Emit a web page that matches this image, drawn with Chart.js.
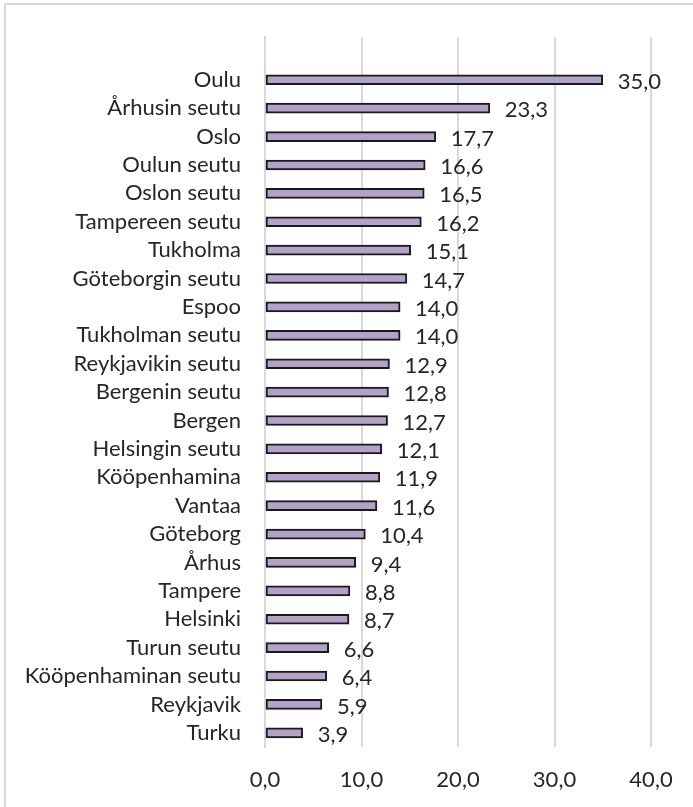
<!DOCTYPE html>
<html>
<head>
<meta charset="utf-8">
<script src="https://cdn.jsdelivr.net/npm/chart.js@4/dist/chart.umd.min.js"></script>
<style>
  html, body { margin: 0; padding: 0; background: #fff; }
  #wrap { position: relative; width: 693px; height: 807px; overflow: hidden; }
  #frame { position: absolute; left: 4px; top: 3px; width: 700px; height: 820px; border: 2px solid #d9d9d9; box-sizing: border-box; }
  canvas { position: absolute; left: 0; top: 0; }
</style>
</head>
<body>
<div id="wrap">
  <div id="frame"></div>
  <canvas id="chart" width="693" height="807"></canvas>
</div>
<script>
const cities = [
  'Oulu', 'Århusin seutu', 'Oslo', 'Oulun seutu', 'Oslon seutu', 'Tampereen seutu',
  'Tukholma', 'Göteborgin seutu', 'Espoo', 'Tukholman seutu', 'Reykjavikin seutu',
  'Bergenin seutu', 'Bergen', 'Helsingin seutu', 'Kööpenhamina', 'Vantaa',
  'Göteborg', 'Århus', 'Tampere', 'Helsinki', 'Turun seutu', 'Kööpenhaminan seutu',
  'Reykjavik', 'Turku'
];
const values = [
  35.0, 23.3, 17.7, 16.6, 16.5, 16.2, 15.1, 14.7, 14.0, 14.0, 12.9, 12.8,
  12.7, 12.1, 11.9, 11.6, 10.4, 9.4, 8.8, 8.7, 6.6, 6.4, 5.9, 3.9
];
const xTicks = [0, 10, 20, 30, 40];

const fontFamily = 'Lato, sans-serif';
const fontSize = 22;
const fmt = v => v.toFixed(1).replace('.', ',');

// blank slot on top leaves the empty band above the first bar
const labels = [''].concat(cities);
const data = [null].concat(values);

const valueLabels = {
  id: 'valueLabels',
  afterDatasetsDraw(chart) {
    const ctx = chart.ctx;
    const meta = chart.getDatasetMeta(0);
    ctx.save();
    ctx.font = fontSize + 'px ' + fontFamily;
    ctx.fillStyle = '#262626';
    ctx.textBaseline = 'middle';
    ctx.textAlign = 'left';
    meta.data.forEach((bar, i) => {
      if (data[i] == null) return;
      ctx.fillText(fmt(data[i]), bar.x + 15, bar.y + 2);
    });
    ctx.restore();
  }
};

new Chart(document.getElementById('chart'), {
  type: 'bar',
  data: {
    labels,
    datasets: [{
      data,
      backgroundColor: '#b3a2c7',
      borderColor: '#1a1a1a',
      borderWidth: 2,
      borderSkipped: false,
      barThickness: 10
    }]
  },
  plugins: [valueLabels],
  options: {
    indexAxis: 'y',
    responsive: false,
    animation: false,
    layout: { padding: { top: 34, right: 42, left: 0, bottom: 0 } },
    plugins: { legend: { display: false }, tooltip: { enabled: false } },
    scales: {
      x: {
        min: 0,
        max: 40,
        afterBuildTicks: scale => { scale.ticks = xTicks.map(v => ({ value: v })); },
        afterFit: scale => { scale.height = 60; },
        grid: { color: '#d9d9d9', lineWidth: 2, drawTicks: false },
        border: { display: false },
        ticks: {
          padding: 20,
          color: '#262626',
          font: { family: fontFamily, size: fontSize },
          callback: v => fmt(v)
        }
      },
      y: {
        afterFit: scale => { scale.width = 265; },
        grid: { display: false, drawTicks: false },
        border: { color: '#d9d9d9', width: 2 },
        ticks: {
          padding: 24,
          autoSkip: false,
          color: '#262626',
          font: { family: fontFamily, size: fontSize }
        }
      }
    }
  }
});
</script>
</body>
</html>
